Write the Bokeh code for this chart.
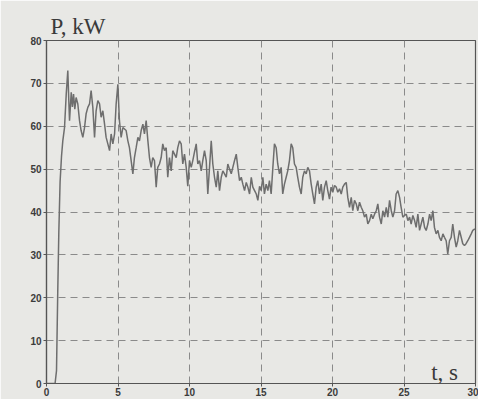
from bokeh.plotting import figure
from bokeh.models import Label, FixedTicker, Range1d
from bokeh.embed import file_html
from bokeh.resources import INLINE

# time, s
t_s = [0.0, 0.6, 0.7, 0.78, 0.86, 0.95, 1.05, 1.14, 1.26, 1.38, 1.49, 1.56, 1.61, 1.73, 1.81, 1.89, 1.98, 2.07, 2.19, 2.31, 2.42, 2.54, 2.66, 2.77, 2.89, 3.01, 3.12, 3.24, 3.36, 3.47, 3.59, 3.71, 3.82, 3.94, 4.06, 4.17, 4.29, 4.41, 4.52, 4.64, 4.76, 4.87, 4.99, 5.1, 5.22, 5.34,
       5.57, 5.69, 5.8, 5.92, 6.04, 6.15, 6.27, 6.39, 6.5, 6.62, 6.74, 6.85, 6.97, 7.09, 7.2, 7.32, 7.43, 7.55, 7.67, 7.78, 7.9, 8.02, 8.13, 8.25, 8.37, 8.48, 8.6, 8.72, 8.83, 8.95, 9.07, 9.18, 9.3, 9.42, 9.53, 9.65, 9.77, 9.88, 10.0,
       10.12, 10.23, 10.35, 10.47, 10.58, 10.7, 10.82, 10.93, 11.05, 11.17, 11.28, 11.4, 11.52, 11.63, 11.75, 11.87, 11.98, 12.1, 12.22, 12.33, 12.45, 12.57, 12.68, 12.8, 12.92, 13.03, 13.15, 13.27, 13.38, 13.5, 13.62, 13.73, 13.85, 13.97, 14.08, 14.2, 14.32, 14.43, 14.55, 14.67, 14.78, 14.9,
       15.01, 15.13, 15.24, 15.36, 15.48, 15.59, 15.71, 15.83, 15.94, 16.06, 16.17, 16.29, 16.41, 16.52, 16.64, 16.76, 16.87, 16.99, 17.11, 17.22, 17.34, 17.46, 17.57, 17.69, 17.81, 17.92, 18.04, 18.16, 18.27, 18.39, 18.51, 18.62, 18.74, 18.86, 18.97, 19.09, 19.21, 19.32, 19.44, 19.56, 19.67, 19.79,
       19.9, 20.02, 20.14, 20.26, 20.37, 20.49, 20.61, 20.72, 20.84, 20.96, 21.07, 21.19, 21.31, 21.42, 21.54, 21.66, 21.77, 21.89, 22.01, 22.12, 22.24, 22.36, 22.47, 22.59, 22.71, 22.82, 22.94, 23.06, 23.17, 23.29, 23.41, 23.52, 23.64, 23.76, 23.87, 23.99, 24.11, 24.22, 24.34, 24.45, 24.57, 24.69, 24.8,
       24.92, 25.04, 25.16, 25.27, 25.39, 25.5, 25.62, 25.74, 25.85, 25.97, 26.09, 26.2, 26.32, 26.44, 26.55, 26.67, 26.79, 26.9, 27.02, 27.13, 27.25, 27.37, 27.48, 27.6, 27.72, 27.83, 27.95, 28.06, 28.18, 28.3, 28.41, 28.53, 28.65, 28.76, 28.88, 29.0, 29.11, 29.23, 29.34, 29.46, 29.58, 29.7, 29.81, 29.93, 30.0]

# power, kW
p_kw = [0, 0, 3, 20, 35, 47, 53, 56.6, 59.7, 67.5, 73, 66, 61.3, 67.9, 64.5, 67.5, 64, 66.7, 65.2, 61.3, 59, 57.4, 59.7, 62.9, 64.4, 65.2, 68.3, 64.4, 57.4, 63.6, 66, 65.2, 62.1, 63.6, 60.5, 57.4, 55.9, 54.3, 58.2, 55.9, 58.2, 65.2, 69.8, 61.3, 57.4, 59.7,
        59, 56.6, 55, 52, 48.9, 52.7, 55, 57.4, 56.6, 59, 60.5, 58.2, 61.3, 56.6, 52.7, 50.4, 52.7, 52, 45.8, 50.4, 51.2, 52.7, 55.9, 54.3, 55, 48.1, 52.7, 49.6, 54.3, 53.5, 52.7, 55, 56.6, 55.9, 51.2, 53.5, 50.4, 46, 52,
        50.4, 52, 54, 55.9, 51.2, 52, 49.6, 52, 54.3, 52, 44.2, 50.4, 56.6, 51.2, 48.1, 45.8, 49.6, 45, 48.1, 49.6, 48.9, 48.1, 51.2, 50, 48.9, 50.4, 52, 53.5, 50.4, 47.3, 48.1, 46.5, 45, 46.9, 45.8, 44.2, 48.1, 45.8, 45, 44.2, 42.7, 46,
        45, 48.1, 44.2, 46.5, 45, 47.3, 44.2, 50.4, 55.9, 55, 51.2, 48.9, 50.4, 44.2, 46.5, 48.1, 49.6, 52, 55.9, 55, 51.2, 50.4, 48.1, 45.8, 44.2, 48.1, 49.6, 48.9, 50.4, 49.6, 46.5, 44.2, 41.9, 45.8, 47.3, 44.2, 46.5, 42.7, 45.8, 47.3, 45, 43,
        45.8, 44.6, 46.2, 45.8, 44.6, 45.4, 44.2, 45.8, 46.5, 46.9, 43.4, 41.1, 43.4, 40.3, 42.7, 41.9, 40.3, 42.3, 41.1, 40.3, 38.8, 39.5, 37.2, 38, 39.5, 38.4, 39.5, 40.3, 41.9, 38.8, 37.2, 40.3, 38.8, 41.1, 38.8, 42.7, 40.3, 38.8, 40.3, 44.2, 45, 43.4, 41.1,
        38.8, 39.2, 39.5, 38, 38.8, 37.2, 39.2, 38, 36.4, 39.5, 35.7, 37.2, 38.8, 36.4, 35.7, 37.2, 39.5, 38, 40.3, 36.4, 34.9, 35.7, 34.1, 33.3, 34.9, 34.1, 33.3, 30.2, 33.3, 34.1, 37.2, 34.1, 31.8, 33.3, 35.7, 34.1, 32.6, 32.2, 32.6, 33.3, 34.1, 34.9, 35.7, 36, 36]

x_ticks = [0, 5, 10, 15, 20, 25, 30]
y_ticks = [0, 10, 20, 30, 40, 50, 60, 70, 80]

BG = "#e8e8e5"

p = figure(width=478, height=399, output_backend="svg", toolbar_location=None,
           x_range=Range1d(0, 30), y_range=Range1d(0, 80),
           min_border_left=46, min_border_right=3, min_border_top=40, min_border_bottom=16)

p.background_fill_color = BG
p.border_fill_color = BG
p.outline_line_color = "#555555"
p.outline_line_width = 1.2

p.title.text = "P, kW"
p.title.text_font = "Liberation Serif"
p.title.text_font_size = "23px"
p.title.text_font_style = "normal"
p.title.text_color = "#3a3a3a"
p.title.align = "left"
p.title.offset = 4
p.title.standoff = 4

for ax in (p.xaxis, p.yaxis):
    ax.major_label_text_font = "Liberation Sans"
    ax.major_label_text_font_size = "10px"
    ax.major_label_text_color = "#3c3c3c"
    ax.major_label_text_font_style = "bold"
    ax.axis_line_color = "#555555"
    ax.axis_line_width = 1.2
    ax.major_tick_line_color = "#555555"
    ax.major_tick_in = 0
    ax.major_tick_out = 3
    ax.minor_tick_line_color = None
p.xaxis.major_label_standoff = 1
p.yaxis.major_label_standoff = 2
p.xaxis.ticker = FixedTicker(ticks=x_ticks)
p.yaxis.ticker = FixedTicker(ticks=y_ticks)

p.grid.grid_line_color = "#8a8a8a"
p.grid.grid_line_dash = "7 5"
p.grid.grid_line_width = 1

p.line(t_s, p_kw, line_color="#6e6e6e", line_width=1.5)

p.add_layout(Label(x=26.9, y=2.6, text="t, s", text_font="Liberation Serif",
                   text_font_size="23px", text_color="#3a3a3a", text_baseline="alphabetic"))

open("out.html", "w").write(file_html(p, INLINE))
